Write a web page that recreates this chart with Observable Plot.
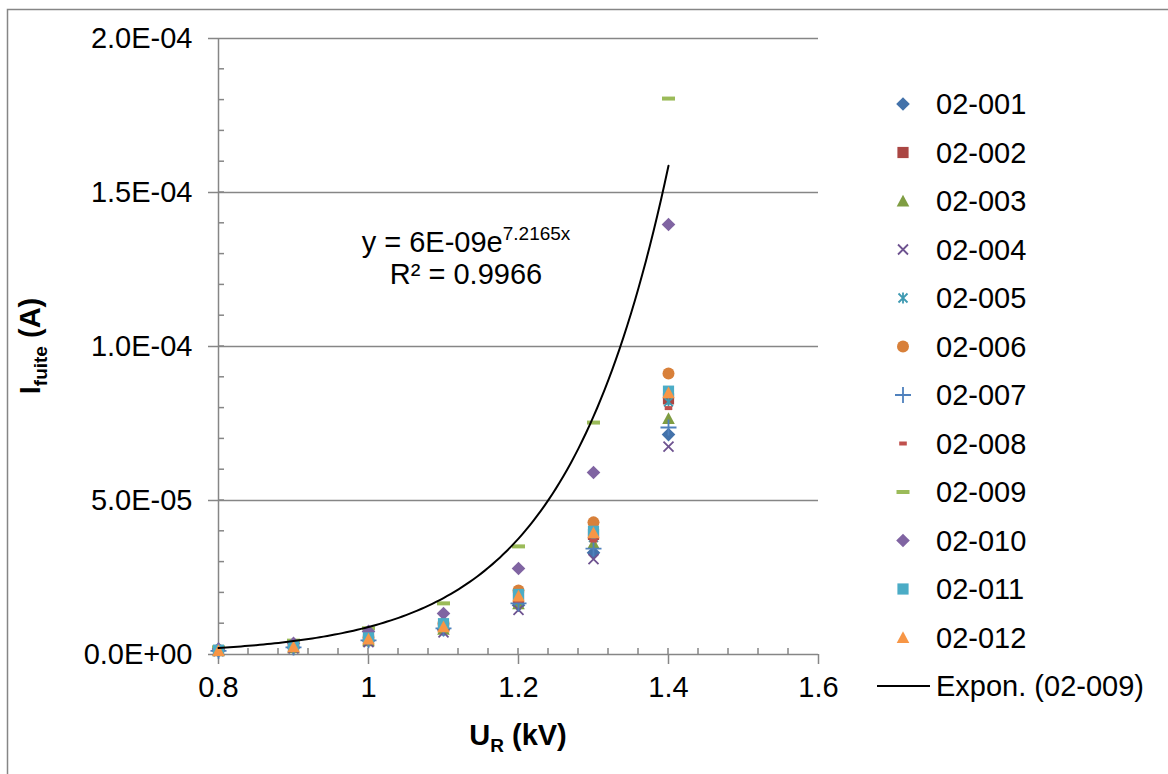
<!DOCTYPE html>
<html><head><meta charset="utf-8">
<script src="https://cdn.jsdelivr.net/npm/d3@7"></script>
<script src="https://cdn.jsdelivr.net/npm/@observablehq/plot@0.6"></script>
<style>body{margin:0;background:#fff;} svg{display:block;}</style>
</head><body><div id="chart"></div>
<script>
// ---- data ----
const voltages = [0.8, 0.9, 1.0, 1.1, 1.2, 1.3, 1.4]; // U_R (kV)
const seriesNames = ["02-001","02-002","02-003","02-004","02-005","02-006","02-007","02-008","02-009","02-010","02-011","02-012"];
const s001 = [1.2e-6, 2.2e-6, 4.5e-6, 8.0e-6, 1.60e-5, 3.30e-5, 7.14e-5];
const s002 = [1.3e-6, 2.5e-6, 5.0e-6, 9.0e-6, 1.85e-5, 3.90e-5, 8.30e-5];
const s003 = [1.2e-6, 2.2e-6, 4.5e-6, 8.2e-6, 1.65e-5, 3.60e-5, 7.66e-5];
const s004 = [1.1e-6, 2.0e-6, 4.0e-6, 7.2e-6, 1.45e-5, 3.10e-5, 6.75e-5];
const s005 = [1.3e-6, 2.4e-6, 4.8e-6, 8.8e-6, 1.75e-5, 3.80e-5, 8.20e-5];
const s006 = [1.5e-6, 2.8e-6, 5.5e-6, 1.00e-5, 2.08e-5, 4.29e-5, 9.12e-5];
const s007 = [1.2e-6, 2.3e-6, 4.6e-6, 8.5e-6, 1.66e-5, 3.44e-5, 7.37e-5];
const s008 = [1.3e-6, 2.4e-6, 4.8e-6, 8.7e-6, 1.75e-5, 3.70e-5, 8.00e-5];
const s009 = [2.3e-6, 4.5e-6, 8.5e-6, 1.66e-5, 3.51e-5, 7.53e-5, 1.805e-4];
const s010 = [1.8e-6, 3.6e-6, 7.5e-6, 1.33e-5, 2.79e-5, 5.91e-5, 1.396e-4];
const s011 = [1.4e-6, 2.7e-6, 5.4e-6, 1.00e-5, 1.95e-5, 4.00e-5, 8.55e-5];
const s012 = [1.3e-6, 2.5e-6, 5.0e-6, 9.0e-6, 1.90e-5, 3.95e-5, 8.50e-5];
const seriesValues = [s001,s002,s003,s004,s005,s006,s007,s008,s009,s010,s011,s012];
const seriesColors = ["#4372AA","#AA4643","#7F9D42","#6E5390","#3F9AB2","#D8803A","#4F81BD","#C0504D","#9BBB59","#8064A2","#4BACC6","#F79646"];
const seriesMarkers = ["diamond","square","triangle","times","asterisk","circle","plus","dashShort","dashLong","diamond","square","triangle"];
const yTicks = [0, 5e-5, 1e-4, 1.5e-4, 2e-4];
const yTickLabels = ["0.0E+00","5.0E-05","1.0E-04","1.5E-04","2.0E-04"];
const xTicks = [0.8, 1.0, 1.2, 1.4, 1.6];
const xTickLabels = ["0.8","1","1.2","1.4","1.6"];
const trendLabel = "Expon. (02-009)";
const eqMain = "y = 6E-09e", eqExp = "7.2165x", r2Text = "R² = 0.9966";

// ---- marker shapes ----
const filledKinds = new Set(["diamond","square","triangle","circle","dashShort","dashLong"]);
function makeSymbol(kind) {
  return { draw(ctx, size) {
    const k = Math.sqrt(size / Math.PI) / 6;
    switch (kind) {
      case "diamond": ctx.moveTo(0,-6.8*k); ctx.lineTo(6.8*k,0); ctx.lineTo(0,6.8*k); ctx.lineTo(-6.8*k,0); ctx.closePath(); break;
      case "square": ctx.rect(-5.6*k,-5.6*k,11.2*k,11.2*k); break;
      case "triangle": ctx.moveTo(0,-6.3*k); ctx.lineTo(6.3*k,5.5*k); ctx.lineTo(-6.3*k,5.5*k); ctx.closePath(); break;
      case "circle": ctx.moveTo(6*k,0); ctx.arc(0,0,6*k,0,2*Math.PI); break;
      case "times": ctx.moveTo(-5*k,-5*k); ctx.lineTo(5*k,5*k); ctx.moveTo(5*k,-5*k); ctx.lineTo(-5*k,5*k); break;
      case "asterisk": ctx.moveTo(-4.5*k,-4.5*k); ctx.lineTo(4.5*k,4.5*k); ctx.moveTo(4.5*k,-4.5*k); ctx.lineTo(-4.5*k,4.5*k); ctx.moveTo(0,-5.5*k); ctx.lineTo(0,5.5*k); break;
      case "plus": ctx.moveTo(-8*k,0); ctx.lineTo(8*k,0); ctx.moveTo(0,-8*k); ctx.lineTo(0,8*k); break;
      case "dashShort": ctx.rect(-3.8*k,-2*k,7.6*k,4*k); break;
      case "dashLong": ctx.rect(-6.5*k,-2*k,13*k,4*k); break;
    }
  }};
}

// ---- exponential trendline fitted to 02-009 (least squares on ln y) ----
const lnY = s009.map(Math.log);
const mx = d3.mean(voltages), my = d3.mean(lnY);
const slope = d3.sum(voltages, (v,i) => (v-mx)*(lnY[i]-my)) / d3.sum(voltages, v => (v-mx)**2);
const intercept = my - slope*mx;
const trendPts = d3.range(0, 121).map(i => {
  const x = voltages[0] + (voltages[voltages.length-1]-voltages[0]) * i / 120;
  return {x, y: Math.exp(intercept + slope*x)};
});

const gray = "#868686";
const FONT = "'Liberation Sans', Arial, sans-serif";
const FS = 29;

const dotMarks = seriesNames.map((name, i) => {
  const filled = filledKinds.has(seriesMarkers[i]);
  return Plot.dot(voltages.map((v,j) => ({x: v, y: seriesValues[i][j]})), {
    x: "x", y: "y", r: 6, symbol: makeSymbol(seriesMarkers[i]),
    fill: filled ? seriesColors[i] : "none",
    stroke: filled ? "none" : seriesColors[i],
    strokeWidth: 1.8
  });
});

const plot = Plot.plot({
  width: 1168, height: 774,
  marginLeft: 218, marginRight: 350, marginTop: 38, marginBottom: 120,
  x: {domain: [0.8, 1.6]},
  y: {domain: [0, 2e-4]},
  style: {fontFamily: FONT, fontSize: FS + "px", color: "#000", background: "#fff"},
  marks: [
    Plot.ruleY(yTicks.slice(1), {stroke: gray, strokeWidth: 1.5}),
    Plot.ruleX([0.8], {stroke: gray, strokeWidth: 1.5}),
    Plot.ruleY([0], {stroke: gray, strokeWidth: 1.5}),
    Plot.axisY({ticks: yTicks, tickFormat: (d) => yTickLabels[yTicks.indexOf(d)], tickSize: 10, tickPadding: 16, stroke: gray, strokeWidth: 1.5, fill: "#000", label: null}),
    Plot.axisX({ticks: xTicks, tickFormat: (d) => xTickLabels[xTicks.findIndex(t => Math.abs(t-d) < 1e-9)], tickSize: 10, tickPadding: 12, stroke: gray, strokeWidth: 1.5, fill: "#000", label: null}),
    ...dotMarks,
    Plot.line(trendPts, {x: "x", y: "y", stroke: "#000", strokeWidth: 2})
  ]
});

document.getElementById("chart").appendChild(plot);

// ---- extra decorations (minor ticks, titles, legend, equation, border) ----
const svg = d3.select(plot);
const xs = plot.scale("x"), ys = plot.scale("y");
const x0 = xs.apply(0.8), y0 = ys.apply(0);
const minor = svg.append("g").attr("stroke", gray).attr("stroke-width", 1.5);
d3.range(1, 20).forEach(i => {
  const yy = ys.apply(i * 1e-5);
  minor.append("line").attr("x1", x0).attr("x2", x0 + 6).attr("y1", yy).attr("y2", yy);
});
d3.range(1, 20).forEach(i => {
  const xx = xs.apply(0.8 + i * 0.04);
  minor.append("line").attr("x1", xx).attr("x2", xx).attr("y1", y0).attr("y2", y0 - 6);
});

// border
svg.insert("rect", ":first-child").attr("x", 7.5).attr("y", 9.5).attr("width", 1200).attr("height", 800)
  .attr("fill", "none").attr("stroke", gray).attr("stroke-width", 1.5);

// axis titles
const xt = svg.append("text").attr("x", (xs.apply(0.8)+xs.apply(1.6))/2).attr("y", 745)
  .attr("text-anchor", "middle").attr("font-weight", "bold").attr("font-size", FS).attr("font-family", FONT);
xt.append("tspan").text("U");
xt.append("tspan").attr("font-size", 19).attr("dy", 7).text("R");
xt.append("tspan").attr("dy", -7).text(" (kV)");
const yt = svg.append("text").attr("transform", `translate(40,${(ys.apply(0)+ys.apply(2e-4))/2}) rotate(-90)`)
  .attr("text-anchor", "middle").attr("font-weight", "bold").attr("font-size", FS).attr("font-family", FONT);
yt.append("tspan").text("I");
yt.append("tspan").attr("font-size", 19).attr("dy", 7).text("fuite");
yt.append("tspan").attr("dy", -7).text(" (A)");

// equation
const eq = svg.append("text").attr("x", 466).attr("y", 252).attr("text-anchor", "middle").attr("font-size", FS).attr("font-family", FONT);
eq.append("tspan").text(eqMain);
eq.append("tspan").attr("font-size", 19).attr("dy", -12).text(eqExp);
svg.append("text").attr("x", 466).attr("y", 284).attr("text-anchor", "middle").attr("font-size", FS).attr("font-family", FONT).text(r2Text);

// legend
const lg = svg.append("g").attr("font-family", FONT).attr("font-size", FS).attr("text-anchor", "start");
seriesNames.forEach((name, i) => {
  const cy = 104 + i * 48.5;
  const filled = filledKinds.has(seriesMarkers[i]);
  lg.append("path").attr("transform", `translate(903,${cy})`)
    .attr("d", d3.symbol().type(makeSymbol(seriesMarkers[i])).size(Math.PI*36)())
    .attr("fill", filled ? seriesColors[i] : "none")
    .attr("stroke", filled ? "none" : seriesColors[i]).attr("stroke-width", 1.8);
  lg.append("text").attr("x", 936).attr("y", cy + 10).text(name);
});
const ty = 104 + 12 * 48.5;
lg.append("line").attr("x1", 877).attr("x2", 930).attr("y1", ty).attr("y2", ty).attr("stroke", "#000").attr("stroke-width", 2);
lg.append("text").attr("x", 936).attr("y", ty + 10).text(trendLabel);
</script>
</body></html>
